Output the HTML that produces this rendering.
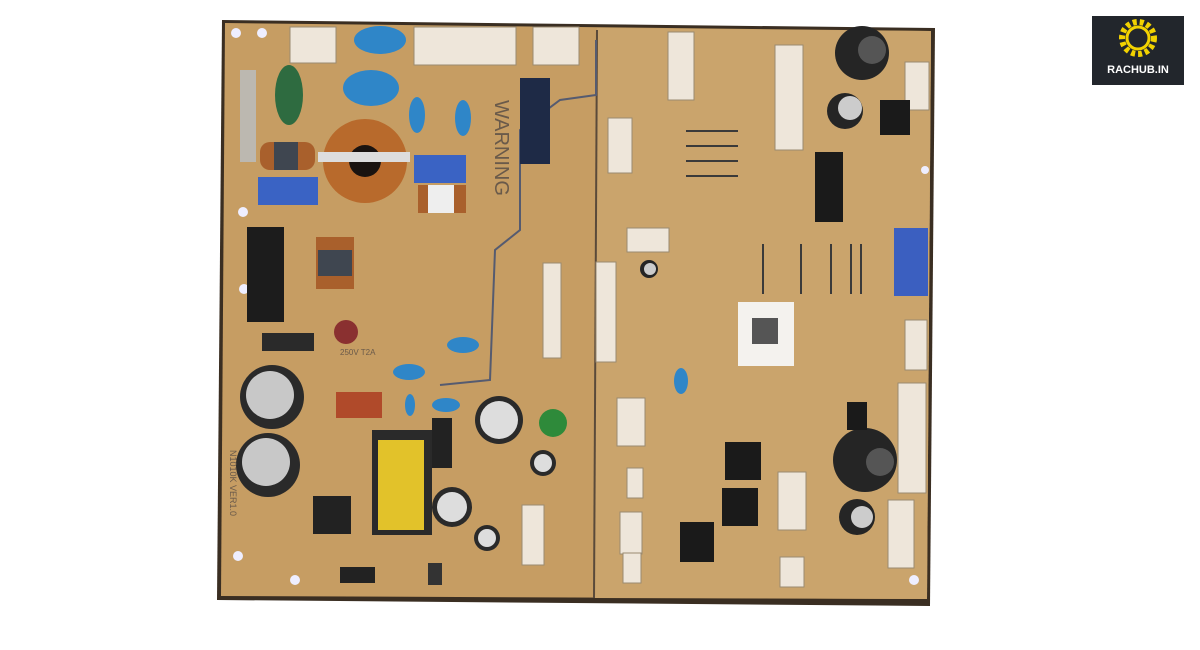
<!DOCTYPE html>
<html><head><meta charset="utf-8"><style>
html,body{margin:0;padding:0;background:#fff;width:1200px;height:650px;overflow:hidden}
</style></head><body>
<svg width="1200" height="650" viewBox="0 0 1200 650" xmlns="http://www.w3.org/2000/svg" font-family="Liberation Sans, sans-serif">
<rect width="1200" height="650" fill="#fff"/>
<!-- board -->
<polygon points="222,20 935,28 930,606 217,600" fill="#3a2e22"/>
<polygon points="225,23 931,31 927,599 221,596" fill="#c69d63"/>
<polygon points="597,28 931,31 927,599 594,598" fill="#caa46c"/>
<line x1="597" y1="30" x2="594" y2="598" stroke="#5a4a3a" stroke-width="2"/>
<path d="M596,40 L596,95 L560,100 L520,130 L520,230 L495,250 L490,380 L440,385" fill="none" stroke="#555b70" stroke-width="2"/>
<!-- holes -->
<g fill="#eef">
<circle cx="236" cy="33" r="5"/><circle cx="262" cy="33" r="5"/><circle cx="243" cy="212" r="5"/><circle cx="244" cy="289" r="5"/><circle cx="238" cy="556" r="5"/><circle cx="295" cy="580" r="5"/><circle cx="914" cy="580" r="5"/><circle cx="925" cy="170" r="4"/></g>
<!-- top connectors -->
<g fill="#eee6da" stroke="#9a8a70">
<rect x="290" y="27" width="46" height="36"/><rect x="414" y="27" width="102" height="38"/><rect x="533" y="27" width="46" height="38"/>
<rect x="668" y="32" width="26" height="68"/><rect x="775" y="45" width="28" height="105"/><rect x="905" y="62" width="24" height="48"/>
<rect x="608" y="118" width="24" height="55"/><rect x="627" y="228" width="42" height="24"/><rect x="905" y="320" width="22" height="50"/>
<rect x="898" y="383" width="28" height="110"/><rect x="617" y="398" width="28" height="48"/><rect x="778" y="472" width="28" height="58"/>
<rect x="620" y="512" width="22" height="42"/><rect x="780" y="557" width="24" height="30"/><rect x="888" y="500" width="26" height="68"/>
<rect x="627" y="468" width="16" height="30"/><rect x="543" y="263" width="18" height="95"/><rect x="596" y="262" width="20" height="100"/>
<rect x="522" y="505" width="22" height="60"/><rect x="623" y="553" width="18" height="30"/></g>
<rect x="894" y="228" width="34" height="68" fill="#3b5fc0"/>
<!-- caps blue -->
<g fill="#2f86c8">
<ellipse cx="380" cy="40" rx="26" ry="14"/><ellipse cx="371" cy="88" rx="28" ry="18"/><ellipse cx="417" cy="115" rx="8" ry="18"/><ellipse cx="463" cy="118" rx="8" ry="18"/>
<ellipse cx="463" cy="345" rx="16" ry="8"/><ellipse cx="409" cy="372" rx="16" ry="8"/><ellipse cx="446" cy="405" rx="14" ry="7"/><ellipse cx="681" cy="381" rx="7" ry="13"/><ellipse cx="410" cy="405" rx="5" ry="11"/></g>
<ellipse cx="289" cy="95" rx="14" ry="30" fill="#2e6b40"/>
<!-- blue boxes -->
<g fill="#3a63c4"><rect x="258" y="177" width="60" height="28"/><rect x="414" y="155" width="52" height="28"/></g>
<!-- toroid -->
<circle cx="365" cy="161" r="42" fill="#b86a2c"/><circle cx="365" cy="161" r="16" fill="#1a1310"/>
<rect x="318" y="152" width="92" height="10" fill="#ddd"/>
<rect x="260" y="142" width="55" height="28" rx="10" fill="#a9602c"/><rect x="274" y="142" width="24" height="28" fill="#3f4650"/>
<rect x="240" y="70" width="16" height="92" fill="#bcb8b0"/>
<rect x="418" y="185" width="48" height="28" fill="#a9602c"/><rect x="428" y="185" width="26" height="28" fill="#eee"/>
<rect x="316" y="237" width="38" height="52" fill="#a9602c"/><rect x="318" y="250" width="34" height="26" fill="#3f4650"/>
<!-- left black -->
<rect x="247" y="227" width="37" height="95" fill="#1c1c1c"/>
<rect x="262" y="333" width="52" height="18" fill="#2a2a2a"/>
<!-- relay -->
<rect x="520" y="78" width="30" height="86" fill="#1e2a46"/>
<!-- big electrolytics -->
<g><circle cx="272" cy="397" r="32" fill="#2a2a2a"/><circle cx="270" cy="395" r="24" fill="#c8c8c8"/>
<circle cx="268" cy="465" r="32" fill="#2a2a2a"/><circle cx="266" cy="462" r="24" fill="#c8c8c8"/>
<circle cx="499" cy="420" r="24" fill="#2a2a2a"/><circle cx="499" cy="420" r="19" fill="#ddd"/>
<circle cx="452" cy="507" r="20" fill="#2a2a2a"/><circle cx="452" cy="507" r="15" fill="#ddd"/>
<circle cx="543" cy="463" r="13" fill="#2a2a2a"/><circle cx="543" cy="463" r="9" fill="#ddd"/>
<circle cx="487" cy="538" r="13" fill="#2a2a2a"/><circle cx="487" cy="538" r="9" fill="#ddd"/>
<circle cx="862" cy="53" r="27" fill="#252525"/><circle cx="872" cy="50" r="14" fill="#555"/>
<circle cx="845" cy="111" r="18" fill="#252525"/><circle cx="850" cy="108" r="12" fill="#ccc"/>
<circle cx="865" cy="460" r="32" fill="#252525"/><circle cx="880" cy="462" r="14" fill="#555"/>
<circle cx="857" cy="517" r="18" fill="#252525"/><circle cx="862" cy="517" r="11" fill="#ccc"/>
<circle cx="649" cy="269" r="9" fill="#252525"/><circle cx="650" cy="269" r="6" fill="#ccc"/>
<circle cx="553" cy="423" r="14" fill="#2e8a3a"/><circle cx="346" cy="332" r="12" fill="#8a3030"/></g>
<rect x="336" y="392" width="46" height="26" fill="#b04a2a"/>
<!-- transformer -->
<rect x="372" y="430" width="60" height="105" fill="#2a2a2a"/><rect x="378" y="440" width="46" height="90" fill="#e2c22a"/>
<rect x="432" y="418" width="20" height="50" fill="#222"/>
<rect x="313" y="496" width="38" height="38" fill="#222"/>
<rect x="340" y="567" width="35" height="16" fill="#222"/>
<rect x="428" y="563" width="14" height="22" fill="#333"/>
<!-- ICs & transistors -->
<rect x="815" y="152" width="28" height="70" fill="#1a1a1a"/>
<rect x="880" y="100" width="30" height="35" fill="#1a1a1a"/>
<g fill="#1a1a1a"><rect x="725" y="442" width="36" height="38"/><rect x="722" y="488" width="36" height="38"/><rect x="680" y="522" width="34" height="40"/><rect x="847" y="402" width="20" height="28"/></g>
<!-- QR label -->
<rect x="738" y="302" width="56" height="64" fill="#f4f2ee"/>
<rect x="752" y="318" width="26" height="26" fill="#555"/>
<!-- headers -->
<g fill="#3a3a3a"><rect x="686" y="130" width="52" height="2"/><rect x="686" y="145" width="52" height="2"/><rect x="686" y="160" width="52" height="2"/><rect x="686" y="175" width="52" height="2"/>
<rect x="762" y="244" width="2" height="50"/><rect x="800" y="244" width="2" height="50"/><rect x="830" y="244" width="2" height="50"/><rect x="850" y="244" width="2" height="50"/><rect x="860" y="244" width="2" height="50"/></g>
<!-- text -->
<text x="495" y="100" font-size="20" fill="#6a5a4a" transform="rotate(90 495 100)">WARNING</text>
<text x="340" y="355" font-size="8" fill="#6a5a4a">250V T2A</text>
<text x="230" y="450" font-size="9" fill="#6a5a4a" transform="rotate(90 230 450)">N1010K VER1.0</text>
<!-- logo -->
<rect x="1092" y="16" width="92" height="69" fill="#22262c"/>
<circle cx="1138" cy="38" r="16" fill="none" stroke="#f2d200" stroke-width="6" stroke-dasharray="4 3"/>
<circle cx="1138" cy="38" r="11" fill="none" stroke="#f2d200" stroke-width="3"/>
<text x="1138" y="73" font-size="11" font-weight="bold" fill="#fff" text-anchor="middle">RACHUB.IN</text>
</svg>
</body></html>
